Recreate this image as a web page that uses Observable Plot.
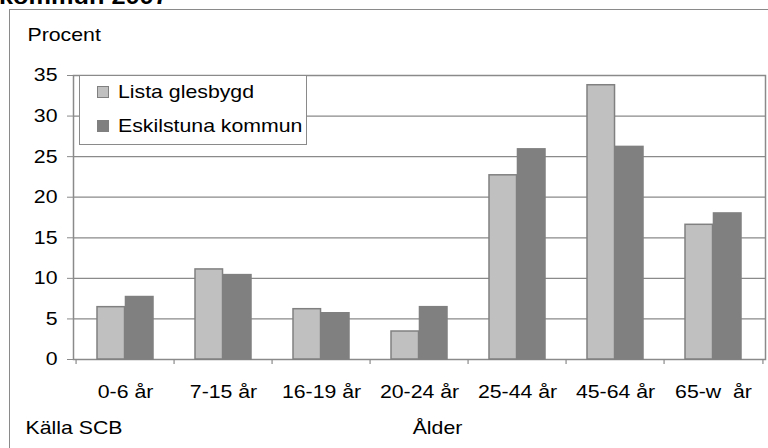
<!DOCTYPE html>
<html>
<head>
<meta charset="utf-8">
<script src="https://cdn.jsdelivr.net/npm/d3@7"></script>
<script src="https://cdn.jsdelivr.net/npm/@observablehq/plot@0.6"></script>
<style>
  html, body { margin: 0; padding: 0; background: #fff; }
  #wrap { position: relative; width: 768px; height: 448px; overflow: hidden; font-family: "Liberation Sans", Arial, sans-serif; }
  #outer { position: absolute; left: 9px; top: 9px; width: 800px; height: 500px; border: 1.5px solid #8a8a8a; box-sizing: border-box; }
  #title { position: absolute; left: -1px; top: -14px; font-size: 22px; line-height: 22px; font-weight: bold; white-space: nowrap; color: #000; transform: scaleX(1.15); transform-origin: left center; }
  #chart { position: absolute; left: 0; top: 0; }
  #chart svg text { white-space: pre; }
  #legend { position: absolute; left: 79px; top: 75px; width: 228px; height: 70px; box-sizing: border-box; border: 1.5px solid #8a8a8a; background: #fff; font-size: 18.5px; }
  .item { position: absolute; left: 17px; height: 22px; line-height: 22px; white-space: nowrap; }
  .sw { display: inline-block; width: 12px; height: 12px; box-sizing: border-box; border: 1.5px solid #808080; vertical-align: middle; margin-right: 9px; position: relative; top: -1px; }
  .lbl { display: inline-block; transform: scaleX(1.15); transform-origin: left center; }
</style>
</head>
<body>
<div id="wrap">
  <div id="outer"></div>
  <div id="title">kommun 2007</div>
  <div id="chart"></div>
  <div id="legend"></div>
</div>
<script>
// ---- data ----
const categories = ["0-6 år", "7-15 år", "16-19 år", "20-24 år", "25-44 år", "45-64 år", "65-w  år"];
const seriesNames = ["Lista glesbygd", "Eskilstuna kommun"];
const listaGlesbygd = [6.45, 11.1, 6.2, 3.45, 22.7, 33.8, 16.6];
const eskilstunaKommun = [7.7, 10.4, 5.7, 6.45, 25.9, 26.2, 18.0];
const yTicks = [0, 5, 10, 15, 20, 25, 30, 35];
const yLabel = "Procent";
const xLabel = "Ålder";
const sourceNote = "Källa SCB";
const seriesColors = ["#c0c0c0", "#808080"];

// ---- layout ----
const W = 768, H = 448, mL = 73, mR = 3, mT = 75, mB = 89;
const padInner = 0.424, padOuter = 0.212;
const textStretch = 1.15;
const rows = [];
categories.forEach((c, i) => {
  rows.push({cat: c, series: seriesNames[0], value: listaGlesbygd[i]});
  rows.push({cat: c, series: seriesNames[1], value: eskilstunaKommun[i]});
});

const xs = Plot.scale({x: {type: "band", domain: categories, range: [mL, W - mR], paddingInner: padInner, paddingOuter: padOuter}});
const step = xs.step ?? (W - mL - mR) / (categories.length - padInner + 2 * padOuter);
const bw = xs.bandwidth ?? step * (1 - padInner);
const plotH = H - mT - mB;
const grid = "#8a8a8a";

const chart = Plot.plot({
  width: W, height: H,
  marginLeft: mL, marginRight: mR, marginTop: mT, marginBottom: mB,
  style: {fontFamily: '"Liberation Sans", Arial, sans-serif', fontSize: "18.5px", color: "#000", background: "transparent", overflow: "visible"},
  x: {type: "band", domain: categories, paddingInner: padInner, paddingOuter: padOuter, axis: null},
  y: {domain: [0, 35], axis: null},
  marks: [
    Plot.ruleY(yTicks, {stroke: grid, strokeWidth: 1.2}),
    Plot.frame({stroke: grid, strokeWidth: 1.5}),
    Plot.barY(rows.filter(d => d.series === seriesNames[0]), {x: "cat", y: "value", fill: seriesColors[0], stroke: "#808080", strokeWidth: 1.5, insetRight: bw / 2}),
    Plot.barY(rows.filter(d => d.series === seriesNames[1]), {x: "cat", y: "value", fill: seriesColors[1], stroke: "#808080", strokeWidth: 1.5, insetLeft: bw / 2}),
    Plot.axisY(yTicks, {anchor: "left", tickSize: 6, tickPadding: 10, stroke: grid, label: null}),
    Plot.axisX({anchor: "bottom", tickSize: 0, tickPadding: 25, label: null}),
    Plot.ruleX(categories, {x: d => d, dx: -step / 2, insetTop: plotH, insetBottom: -5, stroke: grid, strokeWidth: 1.2}),
    Plot.ruleX(categories.slice(-1), {x: d => d, dx: step / 2, insetTop: plotH, insetBottom: -5, stroke: grid, strokeWidth: 1.2}),
    Plot.text([yLabel], {frameAnchor: "top-left", text: d => d, textAnchor: "start", lineAnchor: "middle", dx: -46, dy: -40}),
    Plot.text([sourceNote], {frameAnchor: "bottom-left", text: d => d, textAnchor: "start", lineAnchor: "middle", dx: -48, dy: 69}),
    Plot.text([xLabel], {frameAnchor: "bottom", text: d => d, textAnchor: "middle", lineAnchor: "middle", dx: 18, dy: 69})
  ]
});
document.getElementById("chart").appendChild(chart);

// widen glyphs horizontally, as in the reference rendering
chart.querySelectorAll("text").forEach(t => {
  const w = t.getComputedTextLength();
  if (w > 0) {
    t.setAttribute("textLength", (w * textStretch).toFixed(2));
    t.setAttribute("lengthAdjust", "spacingAndGlyphs");
  }
});

// ---- legend ----
const legend = document.getElementById("legend");
seriesNames.forEach((name, i) => {
  const item = document.createElement("div");
  item.className = "item";
  item.style.top = (5 + i * 34) + "px";
  const sw = document.createElement("span");
  sw.className = "sw";
  sw.style.background = seriesColors[i];
  if (i === 1) sw.style.borderColor = seriesColors[1];
  const lbl = document.createElement("span");
  lbl.className = "lbl";
  lbl.textContent = name;
  item.appendChild(sw);
  item.appendChild(lbl);
  legend.appendChild(item);
});
</script>
</body>
</html>
